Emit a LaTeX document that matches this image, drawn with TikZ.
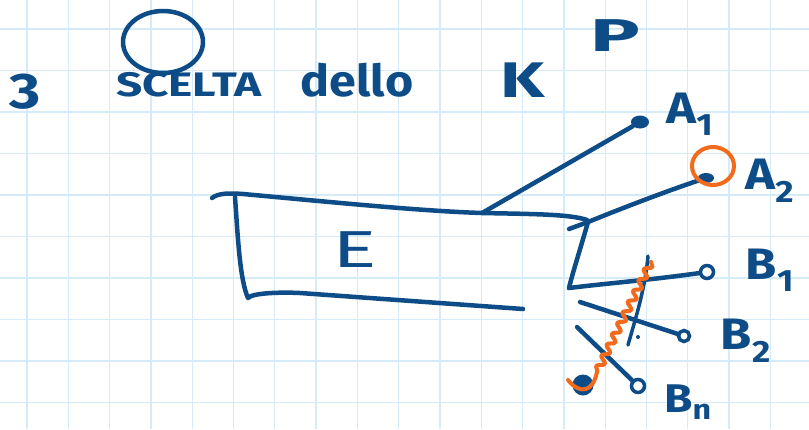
\documentclass[tikz,border=0pt]{standalone}
\usepackage{fontspec}
\setmainfont{Fira Sans}
\usetikzlibrary{decorations.pathmorphing,shapes.geometric}
\definecolor{ink}{HTML}{0D4C86}
\definecolor{marker}{HTML}{F26A1B}
\definecolor{gridblue}{HTML}{D6EBF8}
\begin{document}
\begin{tikzpicture}[
    x=1pt, y=-1pt,
    pen/.style={draw=ink, line width=4.5pt, line cap=round, line join=round},
    hl/.style={draw=marker, line width=4pt, line cap=round, line join=round},
    word/.style={text=ink, inner sep=0pt, font=\fontsize{34}{38}\selectfont\bfseries},
    tag/.style={word, font=\fontsize{44}{48}\selectfont\bfseries, xscale=1.15},
    fulldot/.style={ellipse, fill=ink, inner sep=0pt, minimum width=18pt, minimum height=13pt},
    opendot/.style={circle, draw=ink, line width=3.5pt, fill=white, inner sep=0pt, minimum size=13pt}
]
  % paper
  \useasboundingbox (0,0) rectangle (809,429);
  \fill[white] (0,0) rectangle (809,429);
  \foreach \i in {0,...,19}
    \draw[gridblue, line width=1.3pt] (27+41.3*\i,0) -- (27+41.3*\i,429);
  \foreach \j in {0,...,9}
    \draw[gridblue, line width=1.3pt] (0,29+41.5*\j) -- (809,29+41.5*\j);

  % heading
  \node[word, font=\fontsize{50}{54}\selectfont\bfseries, xscale=1.2] (num) at (25,92) {3};
  \draw[pen] (163,42) ellipse (40pt and 31pt);
  \node[word, xscale=1.35] (scelta) at (189,85) {SCELTA};
  \node[word, font=\fontsize{44}{48}\selectfont\bfseries, xscale=1.1] (dello) at (357,80) {dello};
  \node[word, font=\fontsize{50}{54}\selectfont\bfseries, xscale=1.4] (kk) at (523,80) {K};
  \node[word, font=\fontsize{46}{50}\selectfont\bfseries, xscale=1.8] (pp) at (615,36) {P};

  % the block E
  \draw[pen] (212,198) .. controls (218,193) and (230,193) .. (243,194)
             .. controls (330,202) and (420,211) .. (482,213)
             .. controls (530,214) and (570,214) .. (587,220);
  \draw[pen] (235,197) .. controls (238,240) and (240,280) .. (248,298)
             .. controls (252,293) and (280,292) .. (300,293) -- (523,309);
  \coordinate (etop) at (482,213);
  \coordinate (ecorner) at (588,222);
  \coordinate (ebase) at (569,288);
  \draw[pen] (569,229) -- (ecorner);
  \draw[pen] (ecorner) .. controls (580,250) and (572,275) .. (ebase);
  \node[word, font=\fontsize{52}{56}\selectfont, xscale=1.6] (ee) at (355,250) {E};

  % ends
  \node[fulldot] (a1) at (640,122) {};
  \node[fulldot, minimum width=16pt, minimum height=10pt] (a2) at (706,178) {};
  \node[opendot] (b1) at (707,272) {};
  \node[opendot, minimum size=11pt] (b2) at (684,336) {};
  \node[opendot] (bn) at (638,386) {};
  \node[fulldot, minimum width=21pt, minimum height=21pt] (bx) at (583,385) {};

  \draw[pen] (etop) -- (a1);
  \draw[pen] (ecorner) .. controls (630,205) and (670,190) .. (a2);
  \draw[pen] (ebase) .. controls (610,283) and (650,280) .. (b1);
  \coordinate (b2from) at (580,302);
  \coordinate (bnfrom) at (577,327);
  \draw[pen] (b2from) -- (b2);
  \draw[pen] (bnfrom) -- (bn);
  \draw[pen, line width=3.5pt] (648,256) .. controls (645,290) and (635,320) .. (628,345);
  \fill[ink] (638,337) circle (2pt);

  % marks
  \draw[hl] (713,166) ellipse (21pt and 19pt);
  \draw[hl, decorate, decoration={snake, amplitude=3.5pt, segment length=12pt}] (651,262) -- (597,372);
  \draw[hl] (597,372) .. controls (593,392) and (580,395) .. (568,380);

  % Labels
  \node[tag] (la1) at (690,114) {A\textsubscript{1}};
  \node[tag] (la2) at (770,181) {A\textsubscript{2}};
  \node[tag] (lb1) at (770,270) {B\textsubscript{1}};
  \node[tag] (lb2) at (746,341) {B\textsubscript{2}};
  \node[tag, font=\fontsize{40}{44}\selectfont\bfseries] (lbn) at (688,402) {B\textsubscript{n}};
\end{tikzpicture}
\end{document}
